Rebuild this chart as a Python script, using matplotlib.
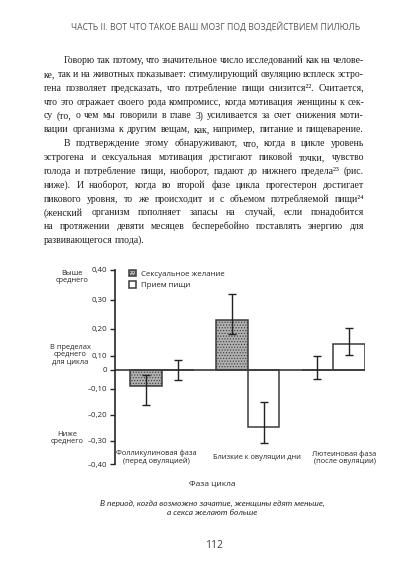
import numpy as np
import matplotlib
matplotlib.use('Agg')
import matplotlib.pyplot as plt

# data
phases = ['Фолликулиновая фаза\n(перед овуляцией)', 'Близкие к овуляции дни', 'Лютеиновая фаза\n(после овуляции)']
sex_vals = [-0.085, 0.23, 0.0]
sex_lo = [-0.16, 0.18, -0.045]
sex_hi = [-0.025, 0.32, 0.10]
food_vals = [0.0, -0.245, 0.145]
food_lo = [-0.055, -0.31, 0.105]
food_hi = [0.07, -0.15, 0.205]
tick_vals = [-0.4, -0.3, -0.2, -0.1, 0.0, 0.1, 0.2, 0.3, 0.4]
tick_labels = ['–0,40', '–0,30', '–0,20', '–0,10', '0', '0,10', '0,20', '0,30', '0,40']
# the printed axis is not evenly spaced around zero; pixel rows of each tick
tick_rows = [464, 441, 415, 389, 370, 356, 329, 300, 270]

header = 'ЧАСТЬ II. ВОТ ЧТО ТАКОЕ ВАШ МОЗГ ПОД ВОЗДЕЙСТВИЕМ ПИЛЮЛЬ'
para1 = [
    'Говорю так потому, что значительное число исследований как на челове-',
    'ке, так и на животных показывает: стимулирующий овуляцию всплеск эстро-',
    'гена позволяет предсказать, что потребление пищи снизится²². Считается,',
    'что это отражает своего рода компромисс, когда мотивация женщины к сек-',
    'су (то, о чем мы говорили в главе 3) усиливается за счет снижения моти-',
    'вации организма к другим вещам, как, например, питание и пищеварение.',
]
para2 = [
    'В подтверждение этому обнаруживают, что, когда в цикле уровень',
    'эстрогена и сексуальная мотивация достигают пиковой точки, чувство',
    'голода и потребление пищи, наоборот, падают до нижнего предела²³ (рис.',
    'ниже). И наоборот, когда во второй фазе цикла прогестерон достигает',
    'пикового уровня, то же происходит и с объемом потребляемой пищи²⁴',
    '(женский организм пополняет запасы на случай, если понадобится',
    'на протяжении девяти месяцев бесперебойно поставлять энергию для',
    'развивающегося плода).',
]
caption = 'В период, когда возможно зачатие, женщины едят меньше,\nа секса желают больше'

plt.rcParams['hatch.color'] = '#8e8e8e'
plt.rcParams['hatch.linewidth'] = 0.5

W, H = 410, 570
fig = plt.figure(figsize=(4.1, 5.7), dpi=100)
fig.patch.set_facecolor('white')
ink = '#262626'
sans = ['Open Sans', 'DejaVu Sans']
serif = ['Liberation Serif', 'DejaVu Serif']


def fx(x):
    return x / W


def fy(y):
    return 1 - y / H


fig.text(fx(216), fy(27), header, ha='center', va='center', fontsize=6.2,
         family=sans, color='#555555')

# justified body text, word by word
renderer = fig.canvas.get_renderer()
left, right, indent, lead = 44, 364, 20, 13.85


def word_widths(words, size):
    out = []
    for w in words:
        t = fig.text(0, 0, w, fontsize=size, family=serif)
        out.append(t.get_window_extent(renderer).width)
        t.remove()
    return out


def layout(lines, size):
    res = []
    for i, line in enumerate(lines):
        x0 = left + (indent if i == 0 else 0)
        words = line.split(' ')
        widths = word_widths(words, size)
        last = i == len(lines) - 1 and sum(widths) < (right - x0) * 0.8
        gap = 2.2 if last else (right - x0 - sum(widths)) / max(len(words) - 1, 1)
        res.append((x0, words, widths, gap, last))
    return res


# pick the largest size at which every justified line keeps a visible space
body_size = 7.3
while body_size > 6.0:
    lays = layout(para1, body_size) + layout(para2, body_size)
    if min(g for _, _, _, g, last in lays if not last) >= 1.9:
        break
    body_size -= 0.05

lays = layout(para1, body_size) + layout(para2, body_size)
for row, (x0, words, widths, gap, last) in enumerate(lays):
    base = 60 + row * lead + 3
    x = x0
    for w, wd in zip(words, widths):
        fig.text(fx(x), fy(base), w, ha='left', va='baseline', fontsize=body_size,
                 family=serif, color='#1e1e1e')
        x += wd + gap

# chart
unit = 85.5
x_left, x_right = 114.5, 365
ax = fig.add_axes([fx(x_left), fy(tick_rows[0]), (x_right - x_left) / W,
                   (tick_rows[0] - tick_rows[-1]) / H])
rows = -np.array(tick_rows, dtype=float)
ax.set_yscale('function', functions=(lambda v: np.interp(v, tick_vals, rows),
                                     lambda u: np.interp(u, rows, tick_vals)))
ax.set_ylim(-0.4, 0.4)

x = np.arange(len(phases))
bw = 0.37
ax.set_xlim(-(162 - x_left) / unit, 2 + bw)

sex_vals = np.array(sex_vals)
food_vals = np.array(food_vals)
ax.bar(x - bw / 2, sex_vals, bw, color='#b0b0b0', edgecolor='#3a3a3a',
       linewidth=1.1, hatch='......', label='Сексуальное желание', zorder=2)
ax.bar(x + bw / 2, food_vals, bw, color='white', edgecolor='#3a3a3a',
       linewidth=1.1, label='Прием пищи', zorder=2)
ax.errorbar(x - bw / 2, sex_vals, yerr=[sex_vals - np.array(sex_lo), np.array(sex_hi) - sex_vals],
            fmt='none', ecolor='#222222', elinewidth=1.0, capsize=2.6, capthick=1.0, zorder=3)
ax.errorbar(x + bw / 2, food_vals, yerr=[food_vals - np.array(food_lo), np.array(food_hi) - food_vals],
            fmt='none', ecolor='#222222', elinewidth=1.0, capsize=2.6, capthick=1.0, zorder=3)
ax.axhline(0, color='#3a3a3a', lw=1.2, zorder=2.5)

for s in ['top', 'right', 'bottom']:
    ax.spines[s].set_visible(False)
ax.spines['left'].set_color(ink)
ax.spines['left'].set_linewidth(1.2)
ax.set_xticks([])
ax.set_yticks(tick_vals, tick_labels)
ax.tick_params(axis='y', direction='out', length=3.5, width=1.0, pad=2,
               labelsize=5.7, colors=ink)
for lab in ax.get_yticklabels():
    lab.set_family(sans)

label_dx = [-0.07, 0.11, 0.13]
for i, name in enumerate(phases):
    ax.text(i + label_dx[i], -0.372, name, ha='center', va='center', fontsize=5.3,
            family=sans, color=ink, linespacing=1.1)

leg = ax.legend(loc='upper left', bbox_to_anchor=(0.035, 1.03), frameon=False,
                handlelength=0.9, handleheight=0.9, handletextpad=0.6,
                labelspacing=0.45, borderpad=0.2, prop={'family': sans, 'size': 5.7})
for t in leg.get_texts():
    t.set_color(ink)

side_kw = dict(ha='center', va='center', fontsize=5.4, family=sans, color=ink, linespacing=1.1)
fig.text(fx(72), fy(277), 'Выше\nсреднего', **side_kw)
fig.text(fx(70), fy(355), 'В пределах\nсреднего\nдля цикла', **side_kw)
fig.text(fx(67), fy(438), 'Ниже\nсреднего', **side_kw)

fig.text(fx(212), fy(484), 'Фаза цикла', ha='center', va='center', fontsize=6.0,
         family=sans, color=ink)
fig.text(fx(212), fy(508), caption, ha='center', va='center', fontsize=6.0,
         family=['Lato', 'DejaVu Sans'], style='italic', color=ink, linespacing=1.2)
fig.text(fx(214), fy(546), '112', ha='center', va='center', fontsize=7.5,
         family=sans, color='#444444')

fig.savefig('out.png', dpi=100, facecolor='white')
